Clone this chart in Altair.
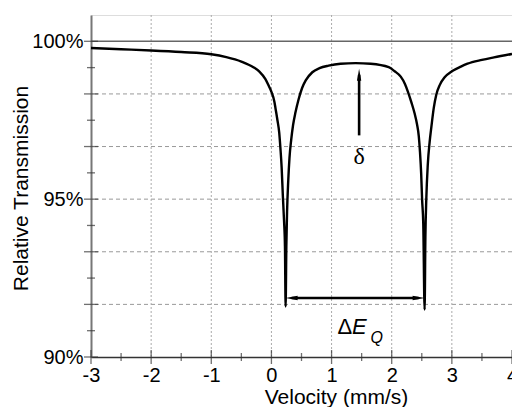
import altair as alt
import pandas as pd

# ---- data ----
velocity = [-3.0, -2.5, -2.0, -1.5, -1.0, -0.75, -0.5, -0.3, -0.2, -0.1, -0.04, 0.0, 0.05,
            0.07, 0.10, 0.13, 0.15, 0.17, 0.19, 0.21, 0.225, 0.236, 0.248, 0.26, 0.28, 0.30,
            0.33, 0.36, 0.40, 0.45, 0.51, 0.57, 0.68, 0.80, 0.95, 1.15, 1.40, 1.65, 1.95,
            2.05, 2.15, 2.22, 2.27, 2.33, 2.38, 2.42, 2.45, 2.47, 2.49, 2.505, 2.525, 2.547,
            2.56, 2.575, 2.60, 2.63, 2.66, 2.70, 2.74, 2.80, 2.88, 3.0, 3.15, 3.26, 3.5, 3.7, 4.0]
transmission = [99.79, 99.75, 99.71, 99.66, 99.59, 99.50, 99.36, 99.18, 99.04, 98.80, 98.57, 98.40, 98.08,
                97.85, 97.50, 97.10, 96.60, 96.00, 95.10, 94.30, 93.50, 91.60, 93.50, 94.60, 95.60, 96.30,
                96.90, 97.35, 97.75, 98.15, 98.52, 98.76, 99.02, 99.15, 99.23, 99.29, 99.31, 99.29, 99.18,
                99.05, 98.88, 98.65, 98.40, 98.05, 97.72, 97.38, 97.00, 96.50, 95.80, 95.00, 94.20, 91.50,
                93.80, 95.00, 96.10, 96.80, 97.30, 97.90, 98.30, 98.62, 98.86, 99.05, 99.20, 99.29, 99.41, 99.49, 99.60]

x_major = [-3, -2, -1, 0, 1, 2, 3, 4]
x_minor = [-2.5, -1.5, -0.5, 0.5, 1.5, 2.5, 3.5]
y_major = [90, 91.6667, 93.3333, 95, 96.6667, 98.3333, 100]
y_minor = [90.8333, 92.5, 94.1667, 95.8333, 97.5, 99.1667]
x_grid = [-2, -1, 0, 1, 2, 3]
y_grid = [91.6667, 93.3333, 95, 96.6667, 98.3333]

delta_pos = {"x": 1.458, "y0": 97.02, "y1": 98.94, "label_y": 96.33}
dq_pos = {"x0": 0.236, "x1": 2.547, "y": 91.87}

W, H = 421, 342
FONT = "Liberation Sans"
xs = alt.Scale(domain=[-3, 4], nice=False, zero=False)
ys = alt.Scale(domain=[90, 100.8333], nice=False, zero=False)

x_axis = alt.Axis(
    values=x_major, grid=False, ticks=False, tickSize=0, labelPadding=8,
    labelFontSize=20, labelFont=FONT, labelColor="black", labelFlush=False,
    labelExpr="'' + datum.value",
    domainColor="#333", domainWidth=1.5,
    title="Velocity (mm/s)", titleFontSize=21, titleFont=FONT, titleFontWeight="normal",
    titleColor="black", titleX=245, titleY=46, titleBaseline="alphabetic", titleAlign="center")
y_axis = alt.Axis(
    values=y_major, grid=False, ticks=False, tickSize=0, labelPadding=8,
    labelFontSize=20, labelFont=FONT, labelColor="black", labelFlush=False, labelOverlap=False,
    labelExpr="abs(datum.value-100)<0.01 ? '100%' : abs(datum.value-95)<0.01 ? '95%' : abs(datum.value-90)<0.01 ? '90%' : ''",
    domainColor="#777", domainWidth=2,
    title="Relative Transmission", titleFontSize=21, titleFont=FONT, titleFontWeight="normal",
    titleColor="black", titleX=-64, titleY=173, titleAngle=270, titleBaseline="alphabetic",
    titleAlign="center")

def X(f="v"):
    return alt.X(f, type="quantitative", scale=xs, axis=x_axis)

def Y(f="t"):
    return alt.Y(f, type="quantitative", scale=ys, axis=y_axis)

# grid
hgrid = alt.Chart(pd.DataFrame({"t": y_grid})).mark_rule(
    color="#999", strokeWidth=1, strokeDash=[4, 3]).encode(y=Y())
vgrid = alt.Chart(pd.DataFrame({"v": x_grid})).mark_rule(
    color="#aaa", strokeWidth=1, strokeDash=[2, 2]).encode(x=X())

line100 = alt.Chart(pd.DataFrame({"t": [100]})).mark_rule(
    color="#666", strokeWidth=1.6).encode(y=Y())

curve_df = pd.DataFrame({"v": velocity, "t": transmission})
curve = alt.Chart(curve_df).mark_line(color="black", strokeWidth=2.4, interpolate="monotone").encode(
    x=X(), y=Y())

# crossing ticks
xt_major = alt.Chart(pd.DataFrame({"v": x_major})).mark_tick(
    orient="vertical", color="#333", thickness=1.3, size=14).encode(x=X(), y=alt.value(H))
xt_minor = alt.Chart(pd.DataFrame({"v": x_minor})).mark_tick(
    orient="vertical", color="#333", thickness=1.3, size=8).encode(x=X(), y=alt.value(H))
yt_major = alt.Chart(pd.DataFrame({"t": y_major})).mark_tick(
    orient="horizontal", color="#333", thickness=1.3, size=14).encode(y=Y(), x=alt.value(0))
yt_minor = alt.Chart(pd.DataFrame({"t": y_minor})).mark_tick(
    orient="horizontal", color="#333", thickness=1.3, size=8).encode(y=Y(), x=alt.value(0))

# delta arrow
d_shaft = alt.Chart(pd.DataFrame({"v": [delta_pos["x"]], "t": [delta_pos["y0"]], "t2": [delta_pos["y1"]]})).mark_rule(
    color="black", strokeWidth=2.6).encode(x=X(), y=Y(), y2="t2:Q")
d_head = alt.Chart(pd.DataFrame({"v": [delta_pos["x"]], "t": [delta_pos["y1"]]})).mark_point(
    shape="M0,-1L0.36,1L-0.36,1Z", filled=True, color="black", opacity=1, size=144).encode(x=X(), y=Y())
d_text = alt.Chart(pd.DataFrame({"v": [delta_pos["x"]], "t": [delta_pos["label_y"]], "s": ["δ"]})).mark_text(
    font="Liberation Serif", fontSize=24, color="black", baseline="middle", align="center").encode(
    x=X(), y=Y(), text="s:N")

# Delta E_Q arrow
q_shaft = alt.Chart(pd.DataFrame({"v": [dq_pos["x0"] + 0.1], "v2": [dq_pos["x1"] - 0.1], "t": [dq_pos["y"]]})).mark_rule(
    color="black", strokeWidth=2.6).encode(x=X(), x2="v2:Q", y=Y())
q_head_l = alt.Chart(pd.DataFrame({"v": [dq_pos["x0"] + 0.1], "t": [dq_pos["y"]]})).mark_point(
    shape="M-1,0L1,-0.36L1,0.36Z", filled=True, color="black", opacity=1, size=144).encode(x=X(), y=Y())
q_head_r = alt.Chart(pd.DataFrame({"v": [dq_pos["x1"] - 0.1], "t": [dq_pos["y"]]})).mark_point(
    shape="M1,0L-1,-0.36L-1,0.36Z", filled=True, color="black", opacity=1, size=144).encode(x=X(), y=Y())

lbl_delta = alt.Chart(pd.DataFrame({"v": [1.22], "t": [90.96], "s": ["Δ"]})).mark_text(
    font=FONT, fontSize=22, color="black", baseline="middle", align="center").encode(x=X(), y=Y(), text="s:N")
lbl_e = alt.Chart(pd.DataFrame({"v": [1.46], "t": [90.96], "s": ["E"]})).mark_text(
    font=FONT, fontSize=22, fontStyle="italic", color="black", baseline="middle", align="center").encode(
    x=X(), y=Y(), text="s:N")
lbl_q = alt.Chart(pd.DataFrame({"v": [1.75], "t": [90.61], "s": ["Q"]})).mark_text(
    font=FONT, fontSize=16, fontStyle="italic", color="black", baseline="middle", align="center").encode(
    x=X(), y=Y(), text="s:N")

chart = alt.layer(
    hgrid, vgrid, line100, curve, xt_major, xt_minor, yt_major, yt_minor,
    d_shaft, d_head, d_text, q_shaft, q_head_l, q_head_r, lbl_delta, lbl_e, lbl_q
).properties(
    width=W, height=H,
    autosize=alt.AutoSizeParams(type="none"),
    padding={"left": 83, "top": 7, "right": 0, "bottom": 50},
    background="white",
).configure_view(stroke="#888", strokeWidth=1.5).configure(font=FONT)

chart.save("out.html", embed_options={"renderer": "svg", "actions": False})
